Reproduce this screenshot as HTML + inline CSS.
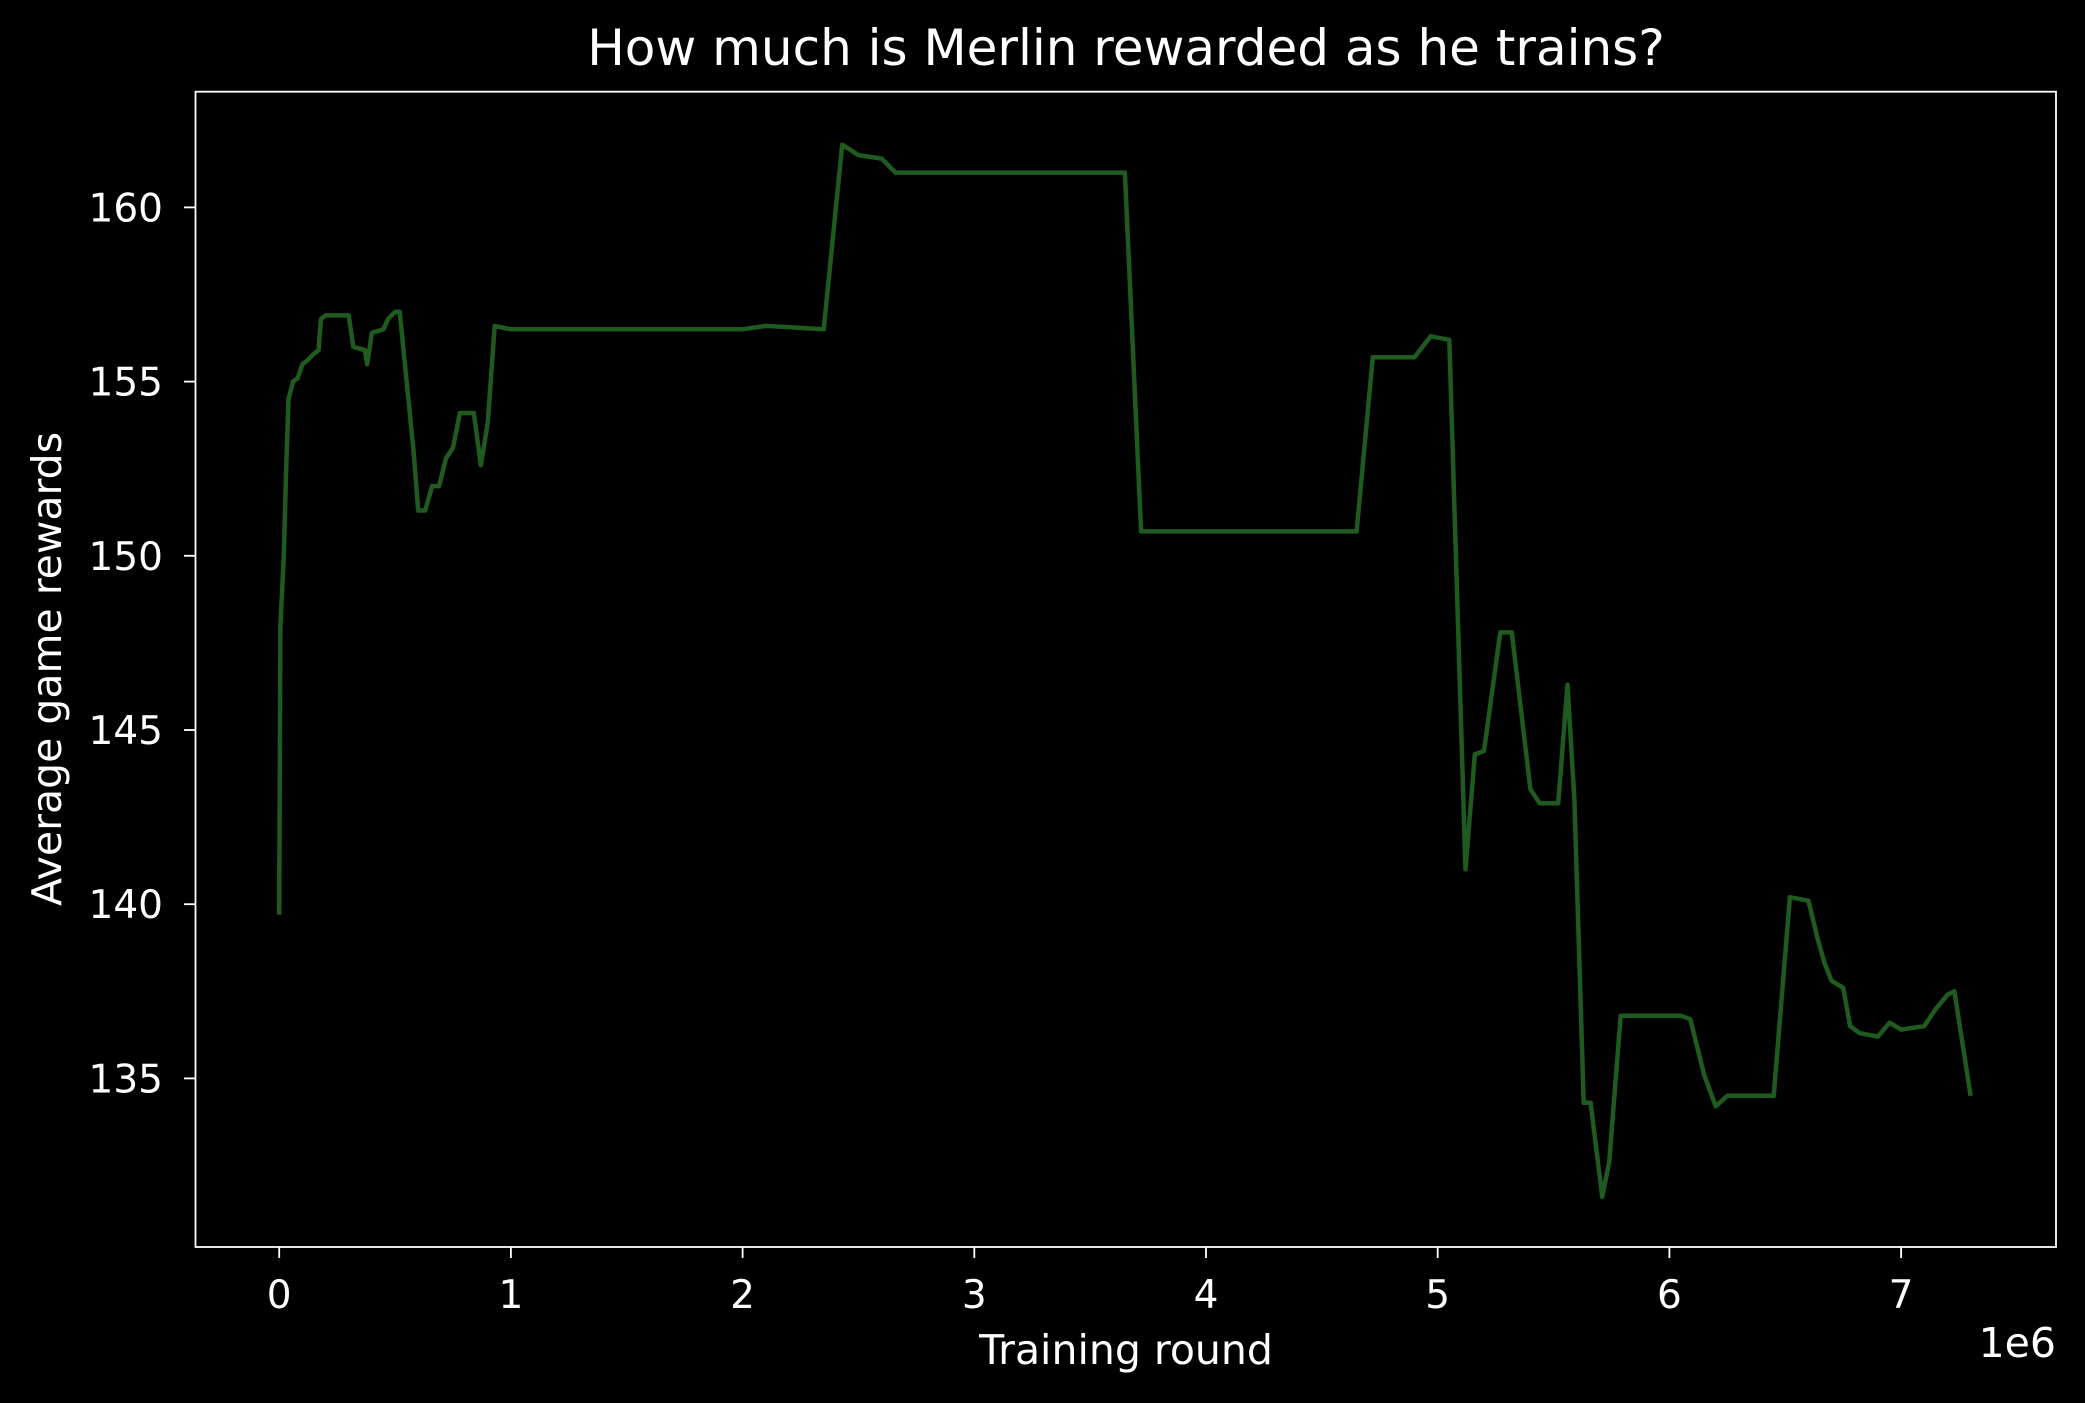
<!DOCTYPE html>
<html><head><meta charset="utf-8"><style>
html,body{margin:0;padding:0;background:#000;}
svg{display:block;font-family:"DejaVu Sans","Liberation Sans",sans-serif;}
</style></head><body>
<svg id="chart" width="2085" height="1403" viewBox="0 0 2085 1403">
<rect x="0" y="0" width="2085" height="1403" fill="#000"/>
<text x="1126" y="65" fill="#fff" font-size="50" text-anchor="middle">How much is Merlin rewarded as he trains?</text>
<g id="xticks"></g>
<g id="yticks"></g>
<path id="line" fill="none" stroke="#1f5a1f" stroke-width="4.5" stroke-linejoin="round"/>
<rect x="195.5" y="91.7" width="1860.5" height="1155.3" fill="none" stroke="#fff" stroke-width="1.8"/>
<text x="1126" y="1364" fill="#fff" font-size="41" text-anchor="middle">Training round</text>
<text x="2056" y="1357" fill="#fff" font-size="41" text-anchor="end">1e6</text>
<text transform="translate(61,669) rotate(-90)" fill="#fff" font-size="41" text-anchor="middle">Average game rewards</text>
</svg>
<script>
const xTicks=[0,1,2,3,4,5,6,7];
const yTicks=[135,140,145,150,155,160];
const xs=[0,0.005,0.02,0.03,0.04,0.06,0.08,0.1,0.12,0.15,0.17,0.18,0.2,0.3,0.32,0.37,0.38,0.4,0.45,0.47,0.5,0.52,0.58,0.6,0.63,0.66,0.69,0.72,0.75,0.78,0.84,0.87,0.9,0.93,1.0,2.0,2.1,2.35,2.43,2.5,2.6,2.66,3.65,3.72,4.65,4.72,4.9,4.97,5.05,5.12,5.16,5.2,5.27,5.32,5.4,5.44,5.52,5.56,5.59,5.63,5.66,5.71,5.74,5.79,6.05,6.09,6.15,6.2,6.25,6.45,6.52,6.6,6.64,6.67,6.7,6.75,6.78,6.82,6.9,6.95,7.0,7.1,7.15,7.2,7.23,7.3];
const ys=[139.7,148,150,152.5,154.5,155,155.1,155.5,155.6,155.8,155.9,156.8,156.9,156.9,156,155.9,155.5,156.4,156.5,156.8,157,157,153,151.3,151.3,152,152,152.8,153.1,154.1,154.1,152.6,153.8,156.6,156.5,156.5,156.6,156.5,161.8,161.5,161.4,161,161,150.7,150.7,155.7,155.7,156.3,156.2,141,144.3,144.4,147.8,147.8,143.3,142.9,142.9,146.3,143,134.3,134.3,131.6,132.6,136.8,136.8,136.7,135.1,134.2,134.5,134.5,140.2,140.1,139,138.3,137.8,137.6,136.5,136.3,136.2,136.6,136.4,136.5,137,137.4,137.5,134.5];
const X=v=>279.2+v*231.7;
const Y=v=>207.4+(160-v)*34.84;
const NS='http://www.w3.org/2000/svg';
const xg=document.getElementById('xticks'),yg=document.getElementById('yticks');
xTicks.forEach(t=>{
  const l=document.createElementNS(NS,'line');
  l.setAttribute('x1',X(t));l.setAttribute('x2',X(t));l.setAttribute('y1',1247);l.setAttribute('y2',1258);
  l.setAttribute('stroke','#fff');l.setAttribute('stroke-width','1.8');
  
  
  xg.appendChild(l);
  const s=document.createElementNS(NS,'text');
  s.setAttribute('x',X(t));s.setAttribute('y',1308);s.setAttribute('fill','#fff');s.setAttribute('font-size','39');s.setAttribute('text-anchor','middle');
  s.textContent=t;
  
  
  xg.appendChild(s);
});
yTicks.forEach(t=>{
  const l=document.createElementNS(NS,'line');
  l.setAttribute('x1',184);l.setAttribute('x2',195.5);l.setAttribute('y1',Y(t));l.setAttribute('y2',Y(t));
  l.setAttribute('stroke','#fff');l.setAttribute('stroke-width','1.8');
  
  
  yg.appendChild(l);
  const s=document.createElementNS(NS,'text');
  s.setAttribute('x',163);s.setAttribute('y',Y(t)+14);s.setAttribute('fill','#fff');s.setAttribute('font-size','39');s.setAttribute('text-anchor','end');
  s.textContent=t;
  
  
  yg.appendChild(s);
});
document.getElementById('line').setAttribute('d',xs.map((v,i)=>(i?'L':'M')+X(v).toFixed(1)+','+Y(ys[i]).toFixed(1)).join(''));
</script>
</body></html>
